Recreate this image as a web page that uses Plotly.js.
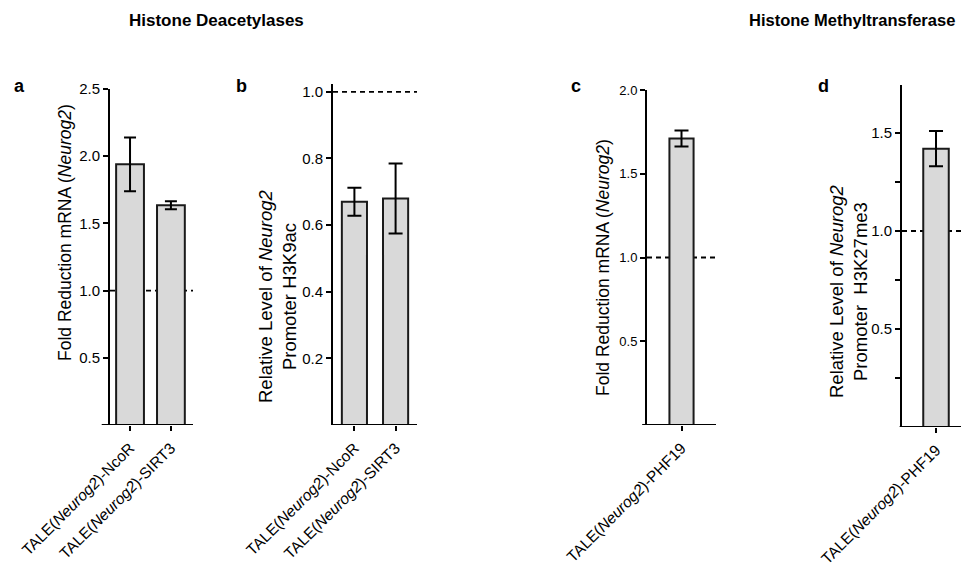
<!DOCTYPE html>
<html><head><meta charset="utf-8">
<script src="https://cdn.plot.ly/plotly-3.0.1.min.js"></script>
<style>html,body{margin:0;padding:0;background:#fff}#chart{width:961px;height:567px}</style>
</head><body><div id="chart"></div>
<script>
// ---- data ----
const catsAB = ["NcoR", "SIRT3"];
const tickTextAB = ["TALE(<i>Neurog2</i>)-NcoR", "TALE(<i>Neurog2</i>)-SIRT3"];
const catsCD = ["PHF19"];
const tickTextCD = ["TALE(<i>Neurog2</i>)-PHF19"];
const mrnaA = [1.94, 1.635];
const errA = [0.20, 0.03];
const h3k9acB = [0.67, 0.68];
const errB = [0.042, 0.105];
const mrnaC = [1.71];
const errC = [0.048];
const h3k27me3D = [1.42];
const errD = [0.09];
const refLevel = 1.0;

const FONT = "Liberation Sans, Arial, Helvetica, sans-serif";
const fill = "#d9d9d9", edge = "#1a1a1a";

function bar(x, y, e, xa, ya, w, cap) {
  return {type: "bar", x: x, y: y, xaxis: xa, yaxis: ya, width: w,
    marker: {color: fill, line: {color: edge, width: 2}},
    error_y: {type: "data", array: e, visible: true, color: "#000", thickness: 2, width: cap},
    showlegend: false, hoverinfo: "skip"};
}

const data = [
  bar(catsAB, mrnaA, errA, "x", "y", 0.68, 6),
  bar(catsAB, h3k9acB, errB, "x2", "y2", 0.61, 7),
  bar(catsCD, mrnaC, errC, "x3", "y3", 0.7, 7),
  bar(catsCD, h3k27me3D, errD, "x4", "y4", 0.75, 7)
];

function xax(dom, rng, cats, txt, fs, anchor) {
  return {domain: dom, range: rng, type: "category", anchor: anchor,
    tickvals: cats, ticktext: txt, tickangle: -45, ticks: "outside", ticklen: 5, tickwidth: 2,
    ticklabelstandoff: 2,
    tickcolor: "#000", showline: false, showgrid: false, zeroline: false,
    tickfont: {family: FONT, size: fs, color: "#000"}};
}
function yax(dom, rng, vals, fs, anchor, extra) {
  return Object.assign({domain: dom, range: rng, anchor: anchor, tickvals: vals, tickformat: ".1f",
    ticks: "outside", ticklen: 5, tickwidth: 2, tickcolor: "#000", showline: true, linewidth: 2,
    linecolor: "#000", showgrid: false, zeroline: false,
    tickfont: {family: FONT, size: fs, color: "#000"}}, extra || {});
}

const H = 567, W = 961;
const py = v => (H - v) / H, px = v => v / W;

const layout = {
  width: W, height: H, margin: {l: 0, r: 0, t: 0, b: 0},
  paper_bgcolor: "#fff", plot_bgcolor: "rgba(0,0,0,0)",
  font: {family: FONT, color: "#000"},
  bargap: 0,
  xaxis: xax([px(110), px(193)], [-0.49, 1.54], catsAB, tickTextAB, 15.5, "y"),
  yaxis: yax([py(425), py(89)], [0, 2.5], [0.5, 1.0, 1.5, 2.0, 2.5], 15, "x"),
  xaxis2: xax([px(333), px(417)], [-0.52, 1.52], catsAB, tickTextAB, 15.5, "y2"),
  yaxis2: yax([py(425), py(83.5)], [0, 1.025], [0.2, 0.4, 0.6, 0.8, 1.0], 15, "x2"),
  xaxis3: xax([px(647), px(716)], [-1, 1], catsCD, tickTextCD, 15.5, "y3"),
  yaxis3: yax([py(425), py(90)], [0, 2.0], [0.5, 1.0, 1.5, 2.0], 13, "x3"),
  xaxis4: xax([px(902), 1], [-1, 0.735], catsCD, tickTextCD, 15.5, "y4"),
  yaxis4: yax([py(427), py(85)], [0, 1.745], [0.5, 1.0, 1.5], 15, "x4",
    {minor: {tickvals: [0.25, 0.75, 1.25], ticks: "outside", ticklen: 5, tickwidth: 2, tickcolor: "#000", showgrid: false}}),
  shapes: [],
  annotations: []
};

// dashed reference lines and x baselines
const pairs = [["x", "y", -0.1], ["x2", "y2", -0.02], ["x3", "y3", -0.07], ["x4", "y4", -0.04]];
pairs.forEach(([xa, ya, ext]) => {
  layout.shapes.push({type: "line", xref: xa + " domain", yref: ya, x0: 0, x1: 1, y0: refLevel, y1: refLevel,
    line: {color: "#000", width: 1.8, dash: "5px,4px"}, layer: "below"});
  layout.shapes.push({type: "line", xref: xa + " domain", yref: ya, x0: ext, x1: 1, y0: 0, y1: 0,
    line: {color: "#000", width: 2}, layer: "above"});
});

function ann(text, x, y, size, bold, angle) {
  return {text: bold ? "<b>" + text + "</b>" : text, xref: "paper", yref: "paper", x: px(x), y: py(y),
    xanchor: "center", yanchor: "middle", showarrow: false, textangle: angle || 0,
    font: {family: FONT, size: size, color: "#000"}};
}
layout.annotations.push(
  ann("Histone Deacetylases", 216, 20, 17, true),
  ann("Histone Methyltransferase", 852, 20, 16.5, true),
  ann("a", 19, 86, 18, true),
  ann("b", 241, 86, 18, true),
  ann("c", 576, 86, 18, true),
  ann("d", 823, 86, 18, true),
  ann("Fold Reduction mRNA (<i>Neurog2</i>)", 65, 233, 17.5, false, -90),
  ann("Relative Level of <i>Neurog2</i><br>Promoter H3K9ac", 277, 296, 18.5, false, -90),
  ann("Fold Reduction mRNA (<i>Neurog2</i>)", 603, 268, 17.5, false, -90),
  ann("Relative Level of <i>Neurog2</i><br>Promoter  H3K27me3", 848, 291, 18.5, false, -90)
);

Plotly.newPlot("chart", data, layout, {staticPlot: true, displayModeBar: false});
</script></body></html>
